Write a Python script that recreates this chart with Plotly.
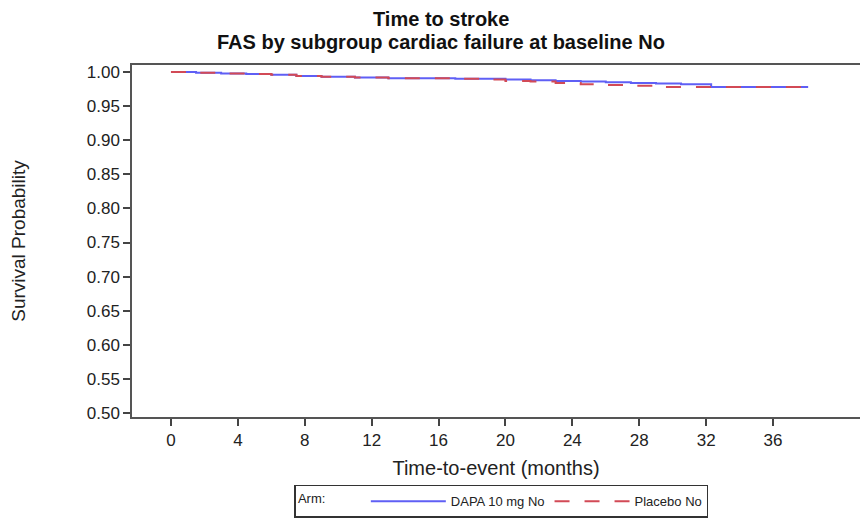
import plotly.graph_objects as go

# Kaplan-Meier step data (months, survival probability)
dapa_t = [0, 1.5, 3, 4.5, 6, 7.5, 9, 11, 13, 15, 17, 18.5, 20, 21.5, 23, 24.5, 26, 27.5, 29, 30.5, 32.3, 38.1]
dapa_s = [1.000, 0.999, 0.998, 0.997, 0.996, 0.994, 0.993, 0.992, 0.991, 0.991, 0.990, 0.990,
          0.989, 0.988, 0.987, 0.986, 0.985, 0.984, 0.983, 0.982, 0.978, 0.978]

plac_t = [0, 1.5, 3, 4.5, 6, 7.5, 9, 11, 13, 15, 17, 18.5, 20, 21.5, 23, 24.5, 26, 27.5, 29, 38.1]
plac_s = [1.000, 0.999, 0.998, 0.997, 0.996, 0.994, 0.993, 0.992, 0.991, 0.991, 0.990, 0.989,
          0.987, 0.986, 0.984, 0.982, 0.981, 0.980, 0.978, 0.978]

x_ticks = [0, 4, 8, 12, 16, 20, 24, 28, 32, 36]
y_ticks = [0.50, 0.55, 0.60, 0.65, 0.70, 0.75, 0.80, 0.85, 0.90, 0.95, 1.00]

title_lines = ["Time to stroke", "FAS by subgroup cardiac failure at baseline No"]

font = "Liberation Sans, Arial, sans-serif"

fig = go.Figure()
fig.add_trace(go.Scatter(x=dapa_t, y=dapa_s, mode="lines", line_shape="hv",
                         name="DAPA 10 mg No", line=dict(color="#5f5ff5", width=2)))
fig.add_trace(go.Scatter(x=plac_t, y=plac_s, mode="lines", line_shape="hv",
                         name="Placebo No", line=dict(color="#d24a56", width=2, dash="longdash")))

for txt, yy in zip(title_lines, [1.1307, 1.0653]):
    fig.add_annotation(text="<b>" + txt + "</b>", xref="paper", yref="paper",
                       x=0.4245, y=yy, xanchor="center", yanchor="middle",
                       showarrow=False, font=dict(size=20, family=font, color="#111"))

fig.update_layout(
    width=860, height=520,
    paper_bgcolor="white", plot_bgcolor="white",
    margin=dict(l=132, r=0, t=65, b=103),
    font=dict(family=font, color="#222", size=17),
    xaxis=dict(range=[-2.33, 41.2], tickvals=x_ticks, ticks="outside", ticklen=7,
               tickcolor="#444", tickwidth=1.5,
               showline=True, linecolor="#555", linewidth=1.5, mirror=True,
               showgrid=False, zeroline=False,
               title=dict(text="Time-to-event (months)", font=dict(size=20), standoff=12),
               tickfont=dict(size=17)),
    yaxis=dict(range=[0.4941, 1.0103], tickvals=y_ticks, tickformat=".2f",
               ticks="outside", ticklen=7, tickcolor="#444", tickwidth=1.5,
               showline=True, linecolor="#555", linewidth=1.5,
               showgrid=False, zeroline=False,
               title=dict(text="Survival Probability", font=dict(size=19), standoff=56),
               tickfont=dict(size=17)),
    legend=dict(orientation="h", xref="container", yref="container",
                x=0.583, xanchor="center", y=0.004, yanchor="bottom",
                bordercolor="#333", borderwidth=1.5, bgcolor="white",
                font=dict(size=13, family=font),
                title=dict(text="Arm:         ", font=dict(size=13), side="left"),
                itemwidth=75, tracegroupgap=0),
    showlegend=True,
)

fig.write_html("out.html", config={"displayModeBar": False},
               post_script="document.body.style.margin='0px';")
